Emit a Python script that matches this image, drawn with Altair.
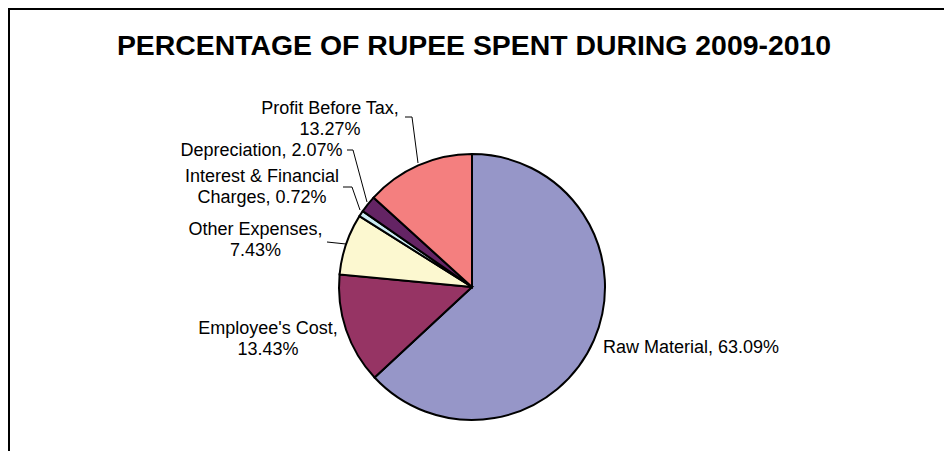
import altair as alt
import pandas as pd

# ---- data ----
categories = ["Raw Material", "Employee's Cost", "Other Expenses",
              "Interest & Financial Charges", "Depreciation", "Profit Before Tax"]
values = [63.09, 13.43, 7.43, 0.72, 2.07, 13.27]
colors = ["#9696C8", "#963464", "#FCF8D0", "#CCECF4", "#642464", "#F47F7F"]
title_text = "PERCENTAGE OF RUPEE SPENT DURING 2009-2010"

# where Excel wrapped each data label ("" = no wrap, "," = after the comma, else after given text)
label_wrap = ["", ",", ",", "Interest & Financial", "", ","]

# ---- layout of annotations (chart pixel coords) ----
label_x = [595, 260, 247.5, 254, 253.5, 322]
label_y = [345, 326, 227, 174, 148, 106]
label_align = ["left", "center", "center", "center", "center", "center"]
leader_paths = {
    "Profit Before Tax": [(397, 109), (404, 109), (410, 155)],
    "Depreciation": [(339, 142), (345, 142), (359, 194)],
    "Interest & Financial Charges": [(335, 179), (344, 179), (352, 202)],
    "Other Expenses": [(319, 234), (338, 236)],
}
W, H = 936, 443
CX, CY, R = 464, 279, 133


def make_label(cat, val, wrap):
    txt = f"{cat}, {val:.2f}%"
    if wrap == ",":
        txt = f"{cat},\n{val:.2f}%"
    elif wrap:
        txt = txt.replace(wrap + " ", wrap + "\n", 1)
    return txt


pie_df = pd.DataFrame({"category": categories, "value": values,
                       "order": list(range(len(categories)))})

lab_df = pd.DataFrame({
    "text": [make_label(c, v, w) for c, v, w in zip(categories, values, label_wrap)],
    "lx": label_x, "ly": label_y, "align": label_align,
})

lead_rows = []
for name, pts in leader_paths.items():
    for i, (px, py) in enumerate(pts):
        lead_rows.append({"leader": name, "step": i, "px": px, "py": py})
lead_df = pd.DataFrame(lead_rows)

pie = alt.Chart(pie_df).mark_arc(
    outerRadius=R, stroke="black", strokeWidth=2
).encode(
    theta=alt.Theta("value:Q", stack=True),
    color=alt.Color("category:N", scale=alt.Scale(domain=categories, range=colors), legend=None),
    order=alt.Order("order:Q"),
    x=alt.value(CX), y=alt.value(CY),
)

text_base = dict(fontSize=18, font="Liberation Sans", lineBreak="\n", lineHeight=21,
                 baseline="alphabetic", color="black")

labels_left = alt.Chart(lab_df).transform_filter("datum.align == 'left'").mark_text(
    align="left", **text_base
).encode(x=alt.X("lx:Q", scale=None), y=alt.Y("ly:Q", scale=None), text="text:N")

labels_center = alt.Chart(lab_df).transform_filter("datum.align == 'center'").mark_text(
    align="center", **text_base
).encode(x=alt.X("lx:Q", scale=None), y=alt.Y("ly:Q", scale=None), text="text:N")

leaders = alt.Chart(lead_df).mark_line(color="black", strokeWidth=1).encode(
    x=alt.X("px:Q", scale=None), y=alt.Y("py:Q", scale=None),
    detail="leader:N", order="step:Q",
)

title = alt.Chart(pd.DataFrame({"t": [title_text]})).mark_text(
    fontSize=28.4, fontWeight="bold", font="Liberation Sans", align="center",
    baseline="alphabetic", color="black"
).encode(x=alt.value(W / 2 - 2), y=alt.value(47), text="t:N")

frame_top = alt.Chart(pd.DataFrame({"a": [0]})).mark_rule(color="black", strokeWidth=2).encode(
    x=alt.value(0), x2=alt.value(W), y=alt.value(1))
frame_left = alt.Chart(pd.DataFrame({"a": [0]})).mark_rule(color="black", strokeWidth=2).encode(
    x=alt.value(1), y=alt.value(0), y2=alt.value(H))

chart = alt.layer(pie, leaders, labels_left, labels_center, title, frame_top, frame_left).properties(
    width=W, height=H, padding=0, autosize="none", background="white"
).configure_view(stroke=None)

chart.save("out.html", embed_options={"renderer": "svg", "actions": False})
